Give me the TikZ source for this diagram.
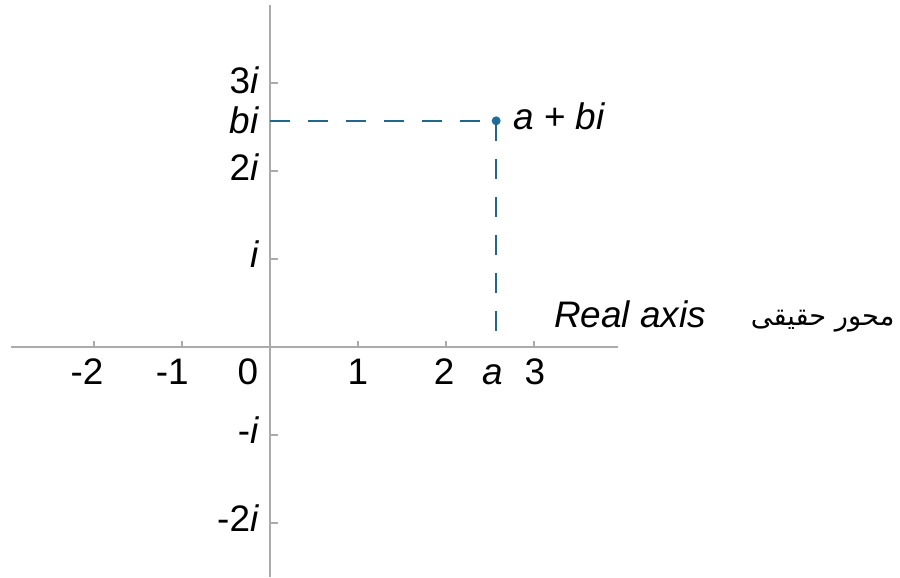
\documentclass[tikz,border=0pt]{standalone}
\usepackage{fontspec}
\setmainfont{Liberation Sans}
\newfontfamily\arabicfont[Script=Arabic]{DejaVu Sans}
\TeXXeTstate=1
\usetikzlibrary{positioning,calc}
\definecolor{axisgray}{HTML}{ABABAB}
\definecolor{ptblue}{HTML}{22668A}
\definecolor{dotblue}{HTML}{1E6FA0}
\tikzset{
  axisline/.style={draw=axisgray, line width=0.8pt},
  ticmark/.style ={draw=axisgray, line width=0.6pt},
  % dashed guides to the point
  guide/.style   ={draw=ptblue, line width=0.9pt, dash pattern=on 0.4cm off 0.36cm},
  numlbl/.style  ={font=\fontsize{21}{25}\selectfont, inner sep=0pt},
  ptdot/.style   ={circle, fill=dotblue, minimum size=0.18cm, inner sep=0pt},
}

\begin{document}
\begin{tikzpicture}[x=1.76cm, y=1.76cm]
    \useasboundingbox (-3.068,-2.614) rectangle (7.159,3.943);
    % axes
    \coordinate (xl) at (-2.943,0);
    \coordinate (xr) at (3.955,0);
    \coordinate (yt) at (0,3.886);
    \coordinate (yb) at (0,-2.614);
    \draw[axisline] (xl) -- (xr);
    \draw[axisline] (yt) -- (yb);
    \foreach \k in {-2,-1,1,2,3} {
      \draw[ticmark] (\k,0) -- (\k,0.07);
      \draw[ticmark] (0,\k) -- (0.09,\k);
    }
    % real labels
    \node[numlbl, anchor=base] (rm2) at (-2.08,-0.43) {-2};
    \node[numlbl, anchor=base] (rm1) at (-1.11,-0.43) {-1};
    \node[numlbl, anchor=base] (r0)  at (-0.25,-0.43) {0};
    \node[numlbl, anchor=base] (r1)  at (1.0,-0.43) {1};
    \node[numlbl, anchor=base] (r2)  at (1.98,-0.43) {2};
    \node[numlbl, anchor=base] (ra)  at (2.53,-0.43) {\textit{a}};
    \node[numlbl, anchor=base] (r3)  at (3.01,-0.43) {3};
    % imaginary labels
    \node[numlbl, anchor=base east] (i3)  at (-0.12,2.88) {3\textit{i}};
    \node[numlbl, anchor=base east] (ib)  at (-0.12,2.43) {\textit{bi}};
    \node[numlbl, anchor=base east] (i2)  at (-0.12,1.89) {2\textit{i}};
    \node[numlbl, anchor=base east] (i1)  at (-0.12,0.90) {\textit{i}};
    \node[numlbl, anchor=base east] (im1) at (-0.12,-1.10) {-\textit{i}};
    \node[numlbl, anchor=base east] (im2) at (-0.12,-2.10) {-2\textit{i}};
    % the point a+bi
    \coordinate (bi) at (0,2.57);
    \coordinate (a) at (2.57,0);
    \node[ptdot] (P) at (2.57,2.57) {};
    \draw[guide] (bi) -- (P.center);
    \draw[guide] (P.center) -- (a);
    \node[numlbl, anchor=base west] (Plbl) at (2.76,2.47) {\textit{a} + \textit{bi}};
    % axis name
    \node[numlbl, anchor=base] (rname) at (4.09,0.22) {\textit{Real axis}};
    \node[font=\arabicfont\fontsize{15.5}{19}\selectfont, inner sep=0pt, anchor=base] (rnamefa) at (6.28,0.24) {\beginR محور حقیقی\endR};
\end{tikzpicture}
\end{document}
